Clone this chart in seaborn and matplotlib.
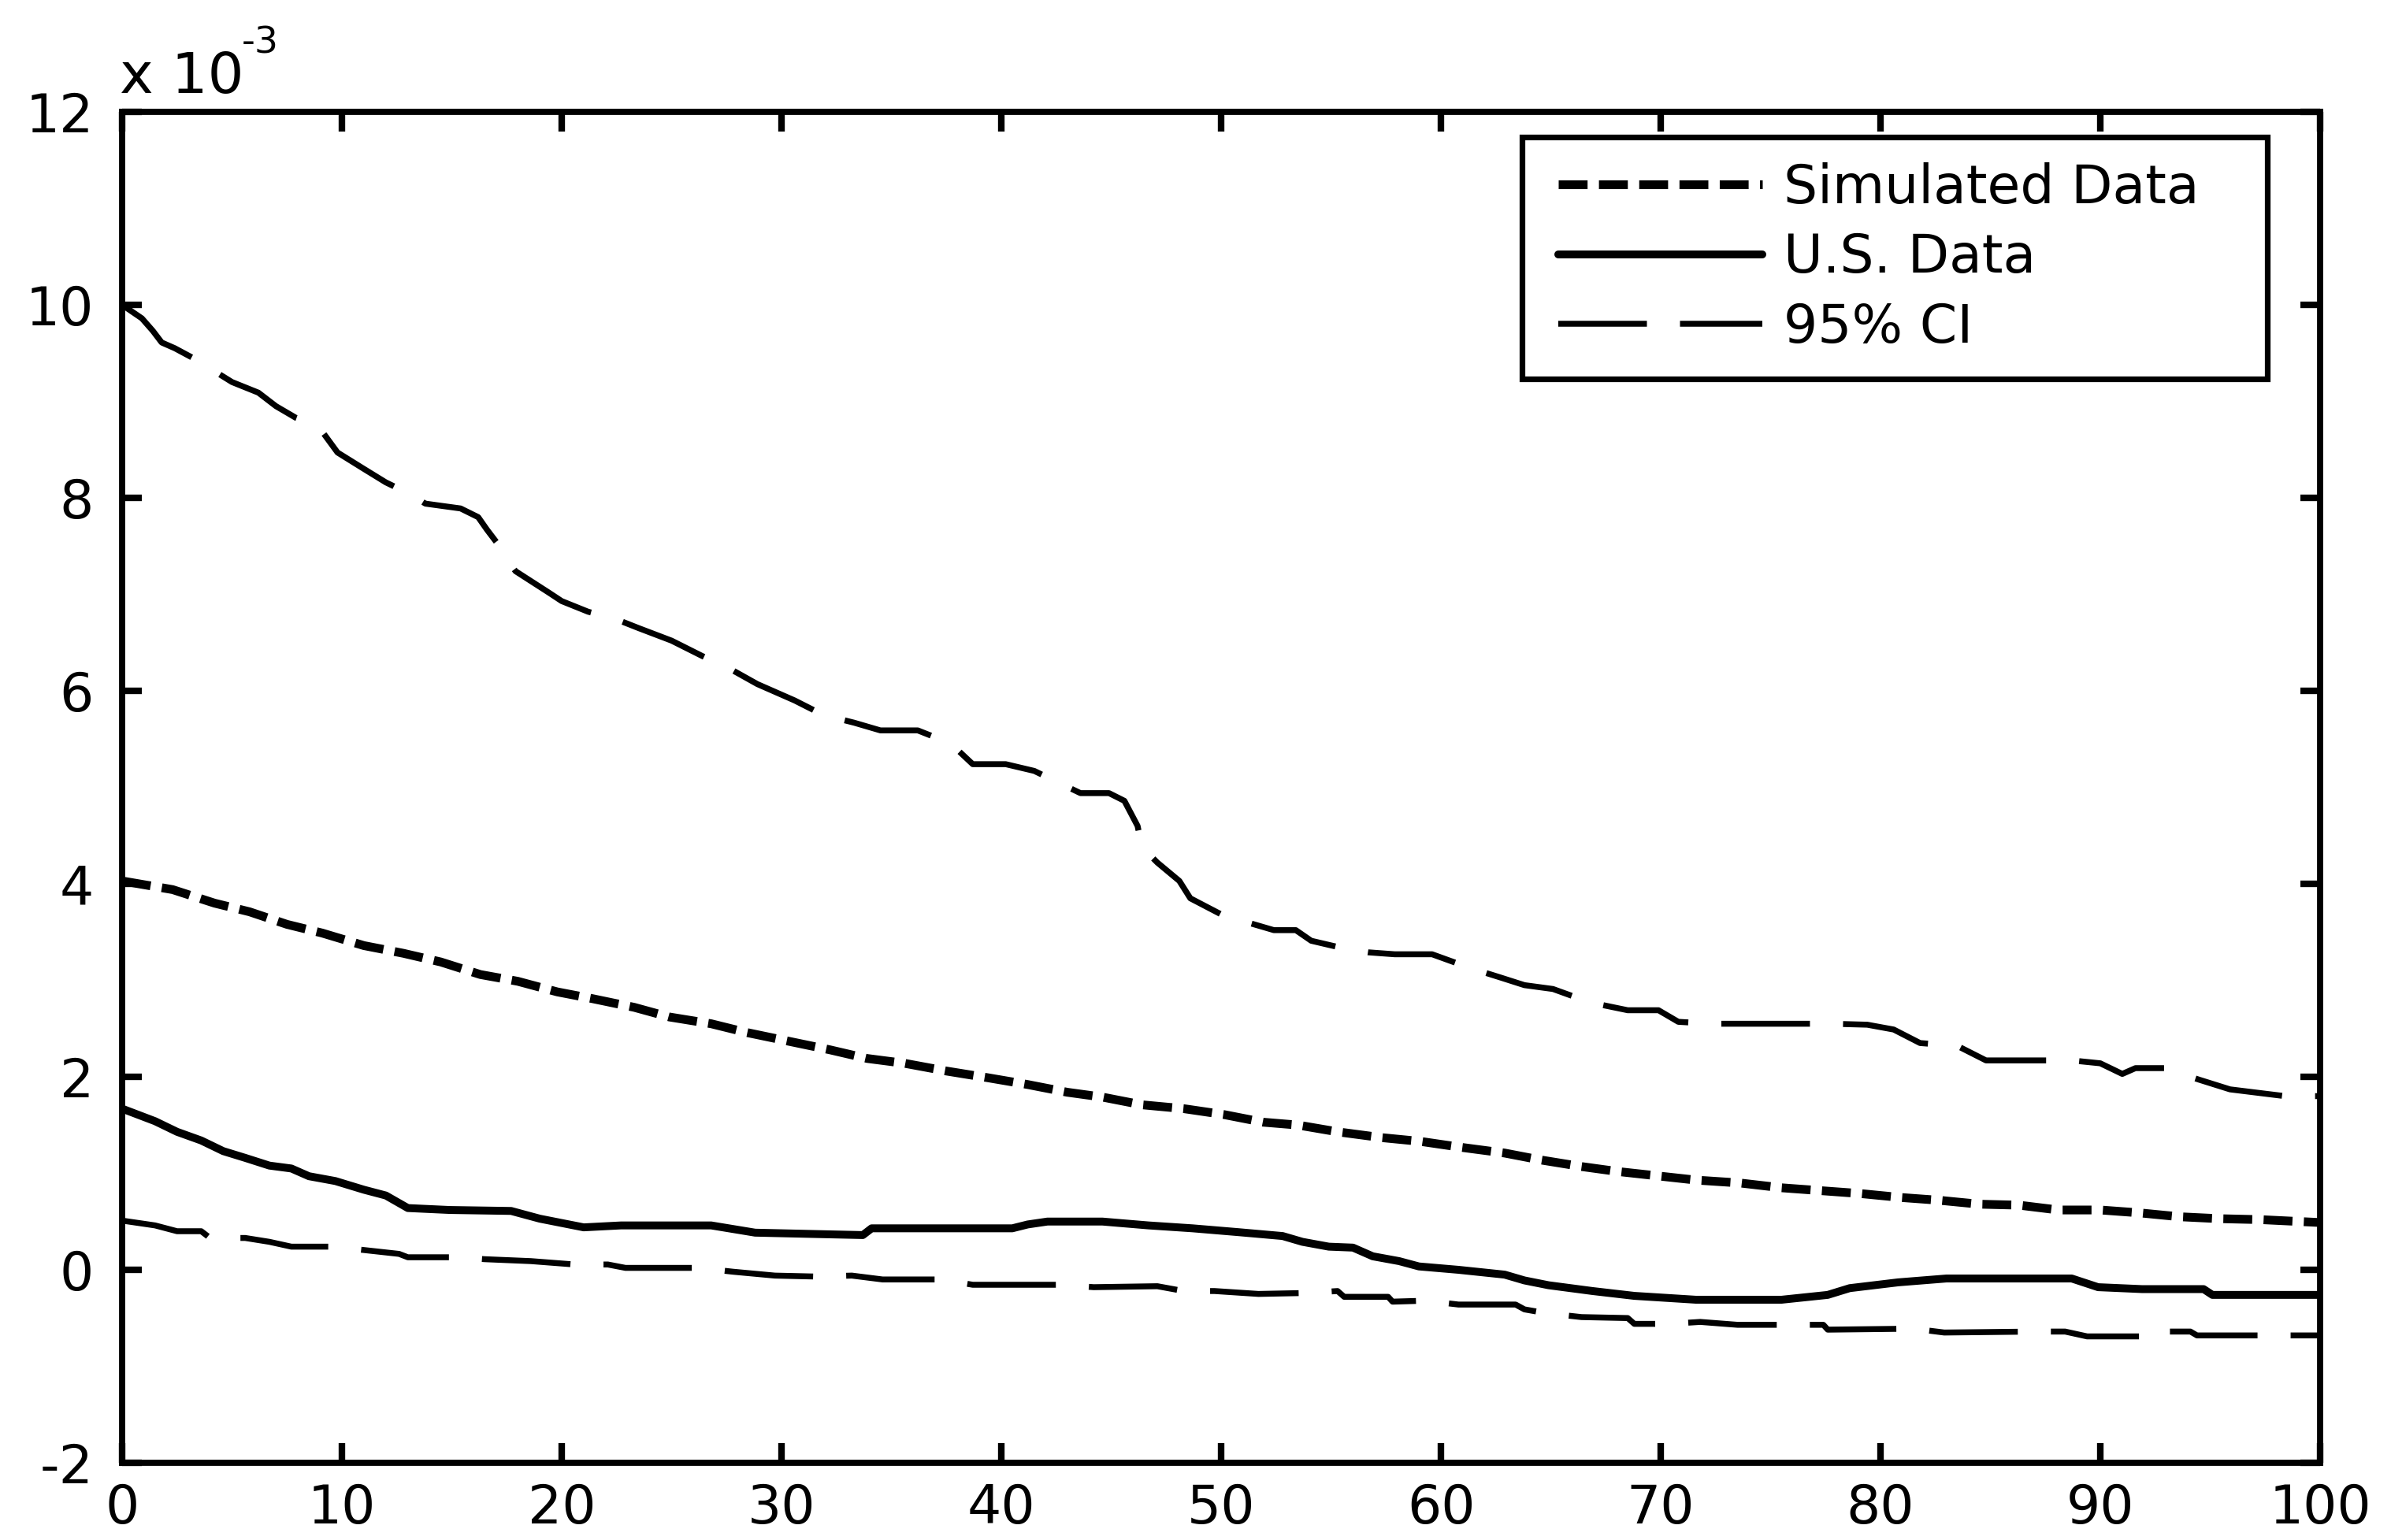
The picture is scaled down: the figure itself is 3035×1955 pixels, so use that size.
import matplotlib
matplotlib.use("Agg")
import matplotlib.pyplot as plt
from matplotlib.lines import Line2D
from matplotlib.legend_handler import HandlerLine2D
import seaborn as sns

# ---------------- data (values in units of 1e-3) ----------------
sim_x = [0, 2.3, 4.2, 5.8, 7.5, 9.1, 11.0, 12.8, 14.5, 16.3, 18.0, 19.8, 21.4, 23.3,
         24.9, 26.8, 28.4, 30.3, 32.2, 33.9, 35.6, 37.5, 39.4, 41.2, 43.0, 44.6, 46.4,
         48.3, 50.1, 51.9, 53.5, 55.3, 57.3, 59.1, 60.9, 62.9, 64.5, 66.4, 68.0, 70.0,
         71.6, 73.6, 75.5, 77.3, 79.1, 80.9, 82.7, 84.5, 86.3, 88.1, 90.0, 91.8, 93.6,
         95.4, 97.3, 100]
sim_y = [4.03, 3.94, 3.80, 3.71, 3.58, 3.49, 3.36, 3.28, 3.19, 3.06, 2.99, 2.88, 2.81, 2.72,
         2.62, 2.55, 2.46, 2.37, 2.28, 2.19, 2.14, 2.06, 1.99, 1.92, 1.84, 1.79, 1.71,
         1.67, 1.61, 1.53, 1.50, 1.43, 1.37, 1.33, 1.27, 1.21, 1.14, 1.07, 1.02, 0.97,
         0.93, 0.90, 0.85, 0.82, 0.79, 0.75, 0.72, 0.68, 0.67, 0.62, 0.62, 0.59, 0.55,
         0.53, 0.52, 0.49]

us_x = [0, 1.5, 2.5, 3.6, 4.6, 5.6, 6.7, 7.7, 8.5, 9.7, 11.0, 12.0, 13.0, 14.9, 17.7,
        19.0, 21.0, 22.7, 26.8, 28.8, 31.7, 33.7, 34.1, 40.5, 41.2, 42.1, 44.6, 46.7,
        48.7, 50.8, 52.8, 53.7, 54.9, 56.0, 56.9, 58.1, 59.0, 60.8, 62.9, 63.8, 64.9,
        66.9, 68.8, 71.6, 75.5, 77.6, 78.6, 80.8, 83.0, 88.7, 89.9, 91.9, 94.7, 95.1, 100]
us_y = [1.67, 1.54, 1.43, 1.34, 1.23, 1.16, 1.08, 1.05, 0.97, 0.92, 0.83, 0.77, 0.64, 0.62,
        0.61, 0.53, 0.44, 0.46, 0.46, 0.385, 0.37, 0.36, 0.43, 0.43, 0.47, 0.50, 0.50,
        0.46, 0.43, 0.39, 0.35, 0.29, 0.24, 0.23, 0.14, 0.09, 0.035, 0.0, -0.05, -0.11,
        -0.16, -0.22, -0.27, -0.31, -0.31, -0.26, -0.19, -0.13, -0.09, -0.09, -0.18,
        -0.20, -0.20, -0.26, -0.26]

ci_hi_x = [0, 0.9, 1.4, 1.8, 2.4, 3.3, 5.0, 6.2, 7.0, 7.9, 8.9, 9.8, 11.0, 12.0, 13.0,
           13.8, 15.4, 16.2, 16.6, 17.1, 17.5, 17.9, 19.4, 20.0, 21.2, 22.5, 23.5, 25.0,
           26.4, 27.8, 28.9, 30.6, 31.9, 33.3, 34.5, 36.2, 37.2, 38.0, 38.7, 40.2, 41.5,
           42.5, 43.6, 44.9, 45.6, 46.2, 46.4, 47.1, 48.1, 48.6, 50.2, 51.2, 52.4, 53.4,
           54.1, 55.6, 56.7, 57.9, 59.6, 61.3, 62.7, 63.8, 65.1, 66.8, 68.5, 69.9, 70.8,
           72.3, 76.4, 77.8, 79.4, 80.6, 81.8, 83.5, 84.8, 87.4, 88.7, 90.0, 91.0, 91.6,
           92.9, 94.5, 95.9, 98.4, 100]
ci_hi_y = [10.0, 9.86, 9.73, 9.61, 9.55, 9.44, 9.2, 9.09, 8.95, 8.83, 8.75, 8.47, 8.3,
           8.16, 8.05, 7.94, 7.89, 7.8, 7.67, 7.52, 7.36, 7.24, 7.02, 6.93, 6.82, 6.74,
           6.65, 6.52, 6.36, 6.21, 6.07, 5.9, 5.75, 5.67, 5.59, 5.59, 5.5, 5.39, 5.24,
           5.24, 5.17, 5.06, 4.94, 4.94, 4.86, 4.6, 4.38, 4.22, 4.03, 3.85, 3.66, 3.6,
           3.52, 3.52, 3.41, 3.33, 3.29, 3.27, 3.27, 3.13, 3.03, 2.95, 2.91, 2.77, 2.69,
           2.69, 2.57, 2.55, 2.55, 2.55, 2.54, 2.49, 2.35, 2.32, 2.17, 2.17, 2.17, 2.14,
           2.03, 2.09, 2.09, 1.97, 1.87, 1.80, 1.80]

ci_lo_x = [0, 1.5, 2.5, 3.6, 4.0, 5.6, 6.7, 7.7, 9.6, 11.2, 12.6, 13.0, 15.2, 16.5, 18.6,
           20.6, 22.1, 22.9, 26.2, 27.8, 29.7, 31.6, 33.2, 34.6, 37.3, 38.7, 42.7, 44.2,
           47.1, 48.3, 49.7, 51.7, 53.9, 55.3, 55.6, 57.6, 57.8, 59.3, 60.8, 63.4, 63.8,
           64.8, 66.4, 68.5, 68.8, 70.4, 71.8, 73.5, 77.4, 77.6, 81.5, 82.9, 87.0, 88.4,
           89.4, 92.3, 92.5, 94.1, 94.4, 98.0, 100]
ci_lo_y = [0.51, 0.46, 0.40, 0.40, 0.33, 0.33, 0.29, 0.24, 0.24, 0.20, 0.165, 0.13, 0.13,
           0.11, 0.09, 0.055, 0.055, 0.02, 0.02, -0.02, -0.06, -0.07, -0.06, -0.10, -0.10,
           -0.155, -0.155, -0.18, -0.17, -0.22, -0.22, -0.25, -0.24, -0.22, -0.28, -0.28,
           -0.33, -0.32, -0.36, -0.36, -0.41, -0.45, -0.49, -0.50, -0.56, -0.56, -0.54,
           -0.57, -0.57, -0.62, -0.61, -0.65, -0.64, -0.64, -0.69, -0.69, -0.64, -0.64,
           -0.68, -0.68, -0.68]

x_ticks = [0, 10, 20, 30, 40, 50, 60, 70, 80, 90, 100]
y_ticks = [-2, 0, 2, 4, 6, 8, 10, 12]
series_labels = ["Simulated Data", "U.S. Data", "95% CI"]
exponent_base = "x 10"
exponent_power = "-3"

# ---------------- style ----------------
sns.set_theme(style="ticks")
plt.rcParams["font.family"] = ["DejaVu Sans"]
for k in ["text.color", "axes.labelcolor", "xtick.color", "ytick.color", "axes.edgecolor"]:
    plt.rcParams[k] = "black"

W, H = 3035, 1955
fig = plt.figure(figsize=(W / 200, H / 200), dpi=200)
fig.patch.set_facecolor("white")
left, right, top, bottom = 155, 2945, 142, 1857
ax = fig.add_axes([left / W, 1 - bottom / H, (right - left) / W, (bottom - top) / H])
ax.set_facecolor("white")

sns.lineplot(x=sim_x, y=sim_y, ax=ax, color="black", linewidth=4.0,
             linestyle=(0, (3.3, 1.3)), label=series_labels[0], sort=False, estimator=None)
sns.lineplot(x=us_x, y=us_y, ax=ax, color="black", linewidth=3.6,
             linestyle="-", label=series_labels[1], sort=False, estimator=None)
sns.lineplot(x=ci_hi_x, y=ci_hi_y, ax=ax, color="black", linewidth=2.7,
             linestyle=(0, (15, 5.6)), label=series_labels[2], sort=False, estimator=None)
sns.lineplot(x=ci_lo_x, y=ci_lo_y, ax=ax, color="black", linewidth=2.7,
             linestyle=(0, (15, 5.6)), sort=False, estimator=None)

ax.set_xlim(0, 100)
ax.set_ylim(-2, 12)
ax.set_xticks(x_ticks)
ax.set_xticklabels([str(t) for t in x_ticks])
ax.set_yticks(y_ticks)
ax.set_yticklabels([str(t) for t in y_ticks])
ax.set_xlabel("")
ax.set_ylabel("")
ax.grid(False)

for s in ax.spines.values():
    s.set_visible(True)
    s.set_linewidth(2.8)
    s.set_color("black")
ax.tick_params(axis="both", which="major", direction="in", length=9, width=3,
               top=True, right=True, labelsize=24.5, colors="black")
ax.tick_params(axis="x", pad=9)
ax.tick_params(axis="y", pad=13)

# axis multiplier label "x 10^-3"
fig.text(152 / W, 1 - 118 / H, exponent_base, fontsize=26, ha="left", va="baseline")
fig.text(307 / W, 1 - 68 / H, exponent_power, fontsize=17, ha="left", va="baseline")

# legend
handles, labels = ax.get_legend_handles_labels()
leg_left, leg_right, leg_top = 1932, 2878, 174
leg = ax.legend(handles, labels, loc="upper left",
                bbox_to_anchor=(leg_left / W, 0.3, (leg_right - leg_left) / W, 1 - leg_top / H - 0.3),
                bbox_transform=fig.transFigure, mode="expand", borderaxespad=0,
                fontsize=24.5, frameon=True, fancybox=False, framealpha=1,
                edgecolor="black", borderpad=0.47, labelspacing=0.33,
                handlelength=4.01, handletextpad=0.4,
                handler_map={Line2D: HandlerLine2D(xpad=0.21)})
leg.get_frame().set_linewidth(2.6)

fig.savefig("out.png", dpi=200, facecolor="white")
